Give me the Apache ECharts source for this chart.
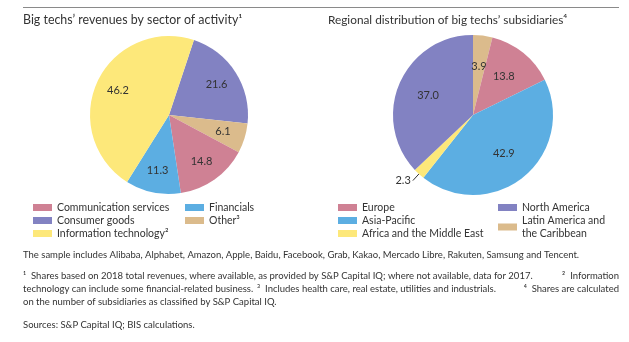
<!DOCTYPE html>
<html>
<head>
<meta charset="utf-8">
<script src="https://cdn.jsdelivr.net/npm/echarts@6/dist/echarts.min.js"></script>
<style>
html,body{margin:0;padding:0;background:#fff;}
#c{width:629px;height:342px;}
</style>
</head>
<body>
<div id="c"></div>
<script>
// ---- Data ----
const sectorNames = ['Consumer goods', 'Other\u00b3', 'Communication services', 'Financials', 'Information technology\u00b2'];
const sectorValues = [21.6, 6.1, 14.8, 11.3, 46.2];
const sectorColors = ['#8282c2', '#dbbb8c', '#cf8194', '#5caee2', '#fde87a'];

const regionNames = ['Latin America and\nthe Caribbean', 'Europe', 'Asia-Pacific', 'Africa and the Middle East', 'North America'];
const regionValues = [3.9, 13.8, 42.9, 2.3, 37.0];
const regionColors = ['#dbbb8c', '#cf8194', '#5caee2', '#fde87a', '#8282c2'];
const regionOutsideLabel = ['Africa and the Middle East'];

const leftTitle = 'Big techs\u2019 revenues by sector of activity\u00b9';
const rightTitle = 'Regional distribution of big techs\u2019 subsidiaries\u2074';

// footnote pieces: [text, line index, anchor]
const footPieces = [
  ['The sample includes Alibaba, Alphabet, Amazon, Apple, Baidu, Facebook, Grab, Kakao, Mercado Libre, Rakuten, Samsung and Tencent.', 0, 'left'],
  ['\u00b9  Shares based on 2018 total revenues, where available, as provided by S&P Capital IQ; where not available, data for 2017.', 1, 'left'],
  ['\u00b2  Information', 1, 'right'],
  ['technology can include some financial-related business.', 2, 'left'],
  ['\u00b3  Includes health care, real estate, utilities and industrials.', 2, 'mid'],
  ['\u2074  Shares are calculated', 2, 'right'],
  ['on the number of subsidiaries as classified by S&P Capital IQ.', 3, 'left'],
  ['Sources: S&P Capital IQ; BIS calculations.', 4, 'left']
];

// ---- Build ----
const FONT = 'Lato';
const TXT = '#333333';
const fmt = p => p.value.toFixed(1);

function visData(names, values, colors, outside) {
  return names.map((n, i) => {
    const isOut = outside && outside.indexOf(n) >= 0;
    return {
      name: n, value: values[i], itemStyle: { color: colors[i] },
      label: { show: isOut },
      labelLine: { show: isOut }
    };
  });
}
function labData(names, values, outside) {
  return names.map((n, i) => ({
    name: n + ' ', value: values[i],
    label: { show: !(outside && outside.indexOf(n) >= 0) }
  }));
}

const labelStyle = { fontFamily: FONT, fontSize: 11, color: TXT };

const chart = echarts.init(document.getElementById('c'), null, { renderer: 'canvas' });

const legendText = { fontFamily: FONT, fontSize: 10.5, color: TXT, lineHeight: 13 };
function legend(left, top, data) {
  return {
    orient: 'vertical', left: left, top: top, data: data,
    icon: 'rect', itemWidth: 19, itemHeight: 7, itemGap: 0,
    padding: 0, textStyle: legendText, selectedMode: false
  };
}

const lineTops = [250, 271, 284, 297, 320];
const footGraphics = footPieces.map(p => {
  const g = { type: 'text', top: lineTops[p[1]], style: { text: p[0], fontFamily: FONT, fontSize: 9.5, fill: TXT } };
  if (p[2] === 'left') g.left = 23;
  else if (p[2] === 'right') g.right = 10;
  else g.left = 257;
  return g;
});

chart.setOption({
  animation: false,
  title: [
    { text: leftTitle, left: 23, top: 14, padding: 0, textStyle: { fontFamily: FONT, fontSize: 12.4, fontWeight: 'normal', color: TXT } },
    { text: rightTitle, left: 328, top: 14, padding: 0, textStyle: { fontFamily: FONT, fontSize: 11.8, fontWeight: 'normal', color: TXT } }
  ],
  legend: [
    legend(33, 201, ['Communication services', 'Consumer goods', 'Information technology\u00b2']),
    legend(185, 201, ['Financials', 'Other\u00b3']),
    legend(338, 201, ['Europe', 'Asia-Pacific', 'Africa and the Middle East']),
    legend(498, 201, ['North America', 'Latin America and\nthe Caribbean'])
  ],
  graphic: [
    { type: 'line', shape: { x1: 23, y1: 7.5, x2: 619, y2: 7.5 }, style: { stroke: '#8a8a8a', lineWidth: 1 } }
  ].concat(footGraphics),
  series: [
    {
      type: 'pie', center: [169, 115], radius: [0, 79], startAngle: 71.6, clockwise: true,
      data: visData(sectorNames, sectorValues, sectorColors, null),
      label: { show: false }, labelLine: { show: false }, silent: true
    },
    {
      type: 'pie', center: [473, 115], radius: [0, 80], startAngle: 90, clockwise: true,
      data: visData(regionNames, regionValues, regionColors, regionOutsideLabel),
      label: Object.assign({ position: 'outside', formatter: fmt, distanceToLabelLine: 2 }, labelStyle),
      labelLine: { length: 9, length2: 0, lineStyle: { color: '#333', width: 1 } },
      avoidLabelOverlap: false, silent: true
    },
    {
      type: 'pie', center: [169, 115], radius: [28, 79], startAngle: 71.6, clockwise: true,
      data: labData(sectorNames, sectorValues, null),
      itemStyle: { color: 'rgba(0,0,0,0)' },
      label: Object.assign({ position: 'inner', formatter: fmt }, labelStyle),
      labelLine: { show: false }, silent: true
    },
    {
      type: 'pie', center: [473, 115], radius: [12, 80], startAngle: 90, clockwise: true,
      data: labData(regionNames, regionValues, regionOutsideLabel),
      itemStyle: { color: 'rgba(0,0,0,0)' },
      label: Object.assign({ position: 'inner', formatter: fmt }, labelStyle),
      labelLine: { show: false }, silent: true
    }
  ]
});
</script>
</body>
</html>
